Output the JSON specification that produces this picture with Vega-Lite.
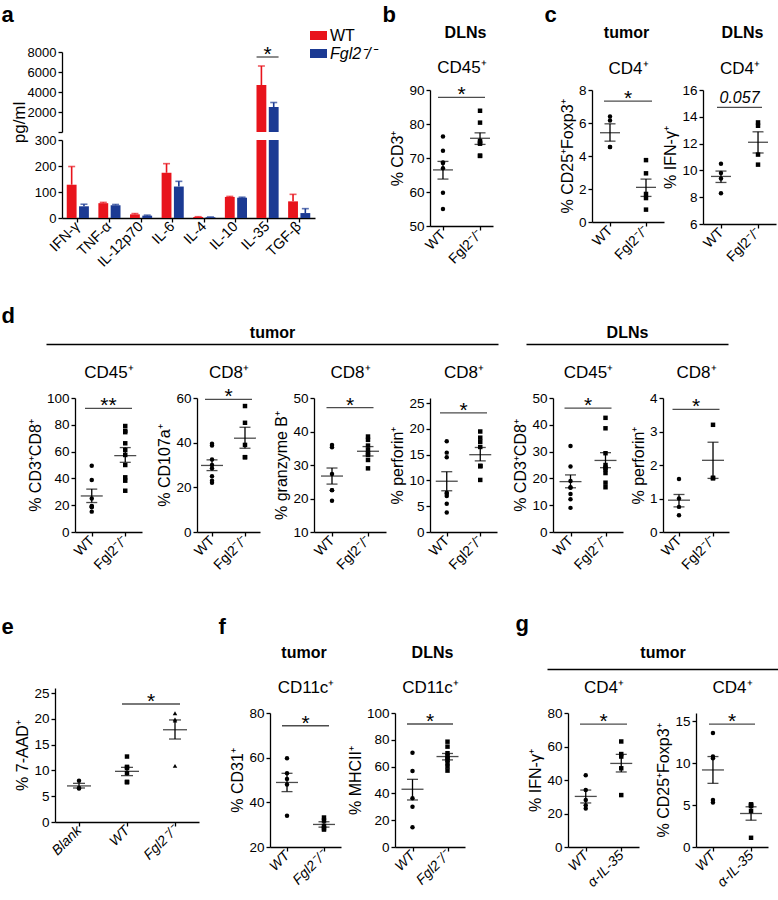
{
"$schema": "https://vega.github.io/schema/vega-lite/v6.json",
"width": 778, "height": 900,
"autosize": {"type": "none"},
"padding": 0,
"background": "white",
"config": {
  "font": "Liberation Sans",
  "numberFormat": "d",
  "view": {"stroke": null},
  "axis": {"grid": false, "domainColor": "#000", "domainWidth": 1.3, "tickColor": "#000", "tickWidth": 1.3, "tickSize": 4, "labelColor": "#000", "labelFontSize": 13.5, "labelFont": "Liberation Sans", "titleFont": "Liberation Sans", "titleFontSize": 16, "titleFontWeight": "normal", "titleColor": "#000", "labelPadding": 2, "titlePadding": 3, "labelFlush": false, "labelOverlap": false},
  "axisX": {"labelFontSize": 14, "titleFontSize": 17},
  "text": {"font": "Liberation Sans", "color": "#000"}
},
"datasets": {
  "a": [
    {"c":"IFN-γ","g":"WT","v":128,"e":198},{"c":"IFN-γ","g":"Fgl2⁻/⁻","v":45,"e":53},
    {"c":"TNF-α","g":"WT","v":57,"e":60},{"c":"TNF-α","g":"Fgl2⁻/⁻","v":49,"e":52},
    {"c":"IL-12p70","g":"WT","v":14,"e":17},{"c":"IL-12p70","g":"Fgl2⁻/⁻","v":9,"e":11},
    {"c":"IL-6","g":"WT","v":174,"e":209},{"c":"IL-6","g":"Fgl2⁻/⁻","v":121,"e":141},
    {"c":"IL-4","g":"WT","v":4,"e":5},{"c":"IL-4","g":"Fgl2⁻/⁻","v":3,"e":4},
    {"c":"IL-10","g":"WT","v":81,"e":83},{"c":"IL-10","g":"Fgl2⁻/⁻","v":78,"e":80},
    {"c":"IL-35","g":"WT","v":4700,"e":6600},{"c":"IL-35","g":"Fgl2⁻/⁻","v":2500,"e":2950},
    {"c":"TGF-β","g":"WT","v":64,"e":91},{"c":"TGF-β","g":"Fgl2⁻/⁻","v":19,"e":36}
  ],
  "b_p": [{"g":"WT","v":76.3},{"g":"WT","v":72.1},{"g":"WT","v":68.7},{"g":"WT","v":68.5},{"g":"WT","v":67},{"g":"WT","v":59.8},{"g":"WT","v":55},
          {"g":"Fgl2⁻/⁻","v":83.9},{"g":"Fgl2⁻/⁻","v":80.4},{"g":"Fgl2⁻/⁻","v":75},{"g":"Fgl2⁻/⁻","v":74.5},{"g":"Fgl2⁻/⁻","v":74.2},{"g":"Fgl2⁻/⁻","v":70.7},{"g":"Fgl2⁻/⁻","v":70.6}],
  "b_s": [{"g":"WT","m":66.5,"lo":63.8,"hi":69.0},{"g":"Fgl2⁻/⁻","m":75.8,"lo":74.0,"hi":77.4}],
  "c1_p": [{"g":"WT","v":6.4},{"g":"WT","v":6.15},{"g":"WT","v":4.55},{"g":"WT","v":4.55},
           {"g":"Fgl2⁻/⁻","v":3.75},{"g":"Fgl2⁻/⁻","v":2.95},{"g":"Fgl2⁻/⁻","v":1.7},{"g":"Fgl2⁻/⁻","v":1.45},{"g":"Fgl2⁻/⁻","v":0.75}],
  "c1_s": [{"g":"WT","m":5.41,"lo":4.9,"hi":5.95},{"g":"Fgl2⁻/⁻","m":2.1,"lo":1.55,"hi":2.6}],
  "c2_p": [{"g":"WT","v":10.5},{"g":"WT","v":9.8},{"g":"WT","v":9.4},{"g":"WT","v":8.3},
           {"g":"Fgl2⁻/⁻","v":13.58},{"g":"Fgl2⁻/⁻","v":13.33},{"g":"Fgl2⁻/⁻","v":11.18},{"g":"Fgl2⁻/⁻","v":10.43}],
  "c2_s": [{"g":"WT","m":9.55,"lo":9.1,"hi":9.95},{"g":"Fgl2⁻/⁻","m":12.1,"lo":11.3,"hi":12.88}],
  "d1_p": [{"g":"WT","v":49.5},{"g":"WT","v":38.8},{"g":"WT","v":25},{"g":"WT","v":19.5},{"g":"WT","v":19},{"g":"WT","v":18.5},{"g":"WT","v":15.2},
           {"g":"Fgl2⁻/⁻","v":79.1},{"g":"Fgl2⁻/⁻","v":75.5},{"g":"Fgl2⁻/⁻","v":74.5},{"g":"Fgl2⁻/⁻","v":66.2},{"g":"Fgl2⁻/⁻","v":61.2},{"g":"Fgl2⁻/⁻","v":57.5},{"g":"Fgl2⁻/⁻","v":50},{"g":"Fgl2⁻/⁻","v":40.8},{"g":"Fgl2⁻/⁻","v":38.3},{"g":"Fgl2⁻/⁻","v":30.8}],
  "d1_s": [{"g":"WT","m":26.9,"lo":22,"hi":32},{"g":"Fgl2⁻/⁻","m":57,"lo":52,"hi":63}],
  "d2_p": [{"g":"WT","v":39.5},{"g":"WT","v":38.7},{"g":"WT","v":32.5},{"g":"WT","v":30},{"g":"WT","v":28.5},{"g":"WT","v":25},{"g":"WT","v":23},{"g":"WT","v":22},
           {"g":"Fgl2⁻/⁻","v":56.4},{"g":"Fgl2⁻/⁻","v":48.9},{"g":"Fgl2⁻/⁻","v":39},{"g":"Fgl2⁻/⁻","v":33.5},{"g":"Fgl2⁻/⁻","v":33.5}],
  "d2_s": [{"g":"WT","m":29.8,"lo":27.5,"hi":32.3},{"g":"Fgl2⁻/⁻","m":42,"lo":37.5,"hi":46.9}],
  "d3_p": [{"g":"WT","v":36},{"g":"WT","v":35.3},{"g":"WT","v":27.3},{"g":"WT","v":22.5},{"g":"WT","v":22.5},{"g":"WT","v":19.3},
           {"g":"Fgl2⁻/⁻","v":38.5},{"g":"Fgl2⁻/⁻","v":37.5},{"g":"Fgl2⁻/⁻","v":35.8},{"g":"Fgl2⁻/⁻","v":34.5},{"g":"Fgl2⁻/⁻","v":33.5},{"g":"Fgl2⁻/⁻","v":33},{"g":"Fgl2⁻/⁻","v":31.5},{"g":"Fgl2⁻/⁻","v":29}],
  "d3_s": [{"g":"WT","m":26.7,"lo":24.3,"hi":29.1},{"g":"Fgl2⁻/⁻","m":34.1,"lo":32.7,"hi":35.5}],
  "d4_p": [{"g":"WT","v":17.6},{"g":"WT","v":15.4},{"g":"WT","v":14.5},{"g":"WT","v":7.6},{"g":"WT","v":7.4},{"g":"WT","v":7},{"g":"WT","v":5.5},{"g":"WT","v":3.8},
           {"g":"Fgl2⁻/⁻","v":19.5},{"g":"Fgl2⁻/⁻","v":18.3},{"g":"Fgl2⁻/⁻","v":17.5},{"g":"Fgl2⁻/⁻","v":16.5},{"g":"Fgl2⁻/⁻","v":12.8},{"g":"Fgl2⁻/⁻","v":12.8},{"g":"Fgl2⁻/⁻","v":12.8},{"g":"Fgl2⁻/⁻","v":10.1}],
  "d4_s": [{"g":"WT","m":9.85,"lo":8.0,"hi":11.7},{"g":"Fgl2⁻/⁻","m":15.0,"lo":13.8,"hi":16.4}],
  "d5_p": [{"g":"WT","v":32.1},{"g":"WT","v":24.4},{"g":"WT","v":19},{"g":"WT","v":16.7},{"g":"WT","v":16.5},{"g":"WT","v":14.2},{"g":"WT","v":12.2},{"g":"WT","v":9},
           {"g":"Fgl2⁻/⁻","v":42.6},{"g":"Fgl2⁻/⁻","v":38.7},{"g":"Fgl2⁻/⁻","v":29.4},{"g":"Fgl2⁻/⁻","v":25},{"g":"Fgl2⁻/⁻","v":24},{"g":"Fgl2⁻/⁻","v":23.4},{"g":"Fgl2⁻/⁻","v":22},{"g":"Fgl2⁻/⁻","v":18.4},{"g":"Fgl2⁻/⁻","v":16.7}],
  "d5_s": [{"g":"WT","m":18.8,"lo":16.5,"hi":21.3},{"g":"Fgl2⁻/⁻","m":26.7,"lo":24,"hi":29.6}],
  "d6_p": [{"g":"WT","v":1.58},{"g":"WT","v":1.0},{"g":"WT","v":0.75},{"g":"WT","v":0.5},
           {"g":"Fgl2⁻/⁻","v":3.2},{"g":"Fgl2⁻/⁻","v":1.62},{"g":"Fgl2⁻/⁻","v":1.6}],
  "d6_s": [{"g":"WT","m":0.95,"lo":0.75,"hi":1.12},{"g":"Fgl2⁻/⁻","m":2.14,"lo":1.6,"hi":2.68}],
  "e_p": [{"g":"Blank","v":8.0},{"g":"Blank","v":6.6},{"g":"Blank","v":6.5},
          {"g":"WT","v":12.7},{"g":"WT","v":10.7},{"g":"WT","v":10.5},{"g":"WT","v":9.5},{"g":"WT","v":7.8},{"g":"WT","v":7.7},
          {"g":"Fgl2⁻/⁻","v":21.1},{"g":"Fgl2⁻/⁻","v":19.9},{"g":"Fgl2⁻/⁻","v":19.7},{"g":"Fgl2⁻/⁻","v":10.9}],
  "e_s": [{"g":"Blank","m":7.0,"lo":6.6,"hi":7.5},{"g":"WT","m":9.83,"lo":9.0,"hi":10.6},{"g":"Fgl2⁻/⁻","m":17.9,"lo":16.1,"hi":19.8}],
  "f1_p": [{"g":"WT","v":59.7},{"g":"WT","v":53},{"g":"WT","v":50.5},{"g":"WT","v":48},{"g":"WT","v":34},
           {"g":"Fgl2⁻/⁻","v":33.2},{"g":"Fgl2⁻/⁻","v":31.8},{"g":"Fgl2⁻/⁻","v":29.5},{"g":"Fgl2⁻/⁻","v":28.4},{"g":"Fgl2⁻/⁻","v":27.8}],
  "f1_s": [{"g":"WT","m":48.9,"lo":44.8,"hi":53.0},{"g":"Fgl2⁻/⁻","m":30.1,"lo":28.9,"hi":31.3}],
  "f2_p": [{"g":"WT","v":70.4},{"g":"WT","v":56.7},{"g":"WT","v":36.3},{"g":"WT","v":30},{"g":"WT","v":14.7},
           {"g":"Fgl2⁻/⁻","v":78.6},{"g":"Fgl2⁻/⁻","v":74.9},{"g":"Fgl2⁻/⁻","v":70},{"g":"Fgl2⁻/⁻","v":68},{"g":"Fgl2⁻/⁻","v":66.2},{"g":"Fgl2⁻/⁻","v":65},{"g":"Fgl2⁻/⁻","v":62.5},{"g":"Fgl2⁻/⁻","v":60},{"g":"Fgl2⁻/⁻","v":57}],
  "f2_s": [{"g":"WT","m":43.1,"lo":35.1,"hi":50.5},{"g":"Fgl2⁻/⁻","m":67.5,"lo":65,"hi":69.8}],
  "g1_p": [{"g":"WT","v":42.8},{"g":"WT","v":34},{"g":"WT","v":28},{"g":"WT","v":25},{"g":"WT","v":23},
           {"g":"α-IL-35","v":63},{"g":"α-IL-35","v":55.5},{"g":"α-IL-35","v":54},{"g":"α-IL-35","v":47},{"g":"α-IL-35","v":31}],
  "g1_s": [{"g":"WT","m":30.2,"lo":26.3,"hi":34},{"g":"α-IL-35","m":49.9,"lo":44.8,"hi":55.3}],
  "g2_p": [{"g":"WT","v":13.6},{"g":"WT","v":10.8},{"g":"WT","v":10.6},{"g":"WT","v":5.6},{"g":"WT","v":5.3},
           {"g":"α-IL-35","v":5.1},{"g":"α-IL-35","v":5.0},{"g":"α-IL-35","v":4.9},{"g":"α-IL-35","v":4.3},{"g":"α-IL-35","v":1.1}],
  "g2_s": [{"g":"WT","m":9.2,"lo":7.6,"hi":10.8},{"g":"α-IL-35","m":4.0,"lo":3.2,"hi":4.8}]
},
"layer": [
  {
    "data": {"name": "a"},
    "layer": [
      {"layer": [
        {"mark": {"type": "bar"},
         "encoding": {
           "x": {"field": "c", "type": "nominal", "scale": {"domain": ["IFN-γ","TNF-α","IL-12p70","IL-6","IL-4","IL-10","IL-35","TGF-β"], "range": [62, 315], "paddingInner": 0.3, "paddingOuter": 0.15},
                 "axis": {"orient": "bottom", "offset": -682, "labelAngle": -45, "labelAlign": "right", "labelBaseline": "middle", "labelFontSize": 14.5, "title": null}},
           "xOffset": {"field": "g", "type": "nominal", "scale": {"domain": ["WT","Fgl2⁻/⁻"], "paddingInner": 0.2}},
           "y": {"field": "v", "type": "quantitative", "scale": {"domain": [0, 300], "range": [218, 140], "clamp": true},
                 "axis": {"orient": "left", "offset": -62, "values": [0,100,200,300], "title": null, "labelFontSize": 13}},
           "color": {"field": "g", "type": "nominal", "scale": {"domain": ["WT","Fgl2⁻/⁻"], "range": ["#E8141C","#1B3A93"]},
                     "legend": {"orient": "none", "legendX": 310, "legendY": 27, "title": null, "symbolType": "M-1,-0.53H1V0.53H-1Z", "symbolSize": 289, "symbolStrokeWidth": 0, "labelFontSize": 16, "labelFont": "Liberation Sans", "labelColor": "#000", "rowPadding": 1, "labelOffset": 3, "padding": 0,
                                "encode": {"labels": {"update": {"fontStyle": {"signal": "datum.label == 'WT' ? 'normal' : 'italic'"}}}}}}
         }},
        {"transform": [{"filter": "datum.c != 'IL-35'"}],
         "mark": {"type": "rule", "strokeWidth": 1.6},
         "encoding": {"x": {"field": "c", "type": "nominal"}, "xOffset": {"field": "g", "type": "nominal"}, "y": {"field": "v", "type": "quantitative"}, "y2": {"field": "e"}, "color": {"field": "g", "type": "nominal"}}},
        {"transform": [{"filter": "datum.c != 'IL-35'"}],
         "mark": {"type": "tick", "orient": "horizontal", "size": 7, "thickness": 1.6},
         "encoding": {"x": {"field": "c", "type": "nominal"}, "xOffset": {"field": "g", "type": "nominal"}, "y": {"field": "e", "type": "quantitative"}, "color": {"field": "g", "type": "nominal"}}}
      ]},
      {"layer": [
        {"transform": [{"filter": "datum.c == 'IL-35'"}],
         "mark": {"type": "bar"},
         "encoding": {
           "x": {"field": "c", "type": "nominal"},
           "xOffset": {"field": "g", "type": "nominal"},
           "y": {"field": "v", "type": "quantitative", "scale": {"domain": [0, 8000], "range": [132, 52]},
                 "axis": {"orient": "left", "offset": -62, "values": [0,2000,4000,6000,8000], "labelExpr": "datum.value == 0 ? '' : datum.label", "title": "pg/ml", "titleX": -43, "titleY": 122, "titleAlign": "center", "titleBaseline": "middle", "titleFontSize": 17, "labelFontSize": 13}},
           "color": {"field": "g", "type": "nominal"}
         }},
        {"transform": [{"filter": "datum.c == 'IL-35'"}],
         "mark": {"type": "rule", "strokeWidth": 1.6},
         "encoding": {"x": {"field": "c", "type": "nominal"}, "xOffset": {"field": "g", "type": "nominal"}, "y": {"field": "v", "type": "quantitative"}, "y2": {"field": "e"}, "color": {"field": "g", "type": "nominal"}}},
        {"transform": [{"filter": "datum.c == 'IL-35'"}],
         "mark": {"type": "tick", "orient": "horizontal", "size": 7, "thickness": 1.6},
         "encoding": {"x": {"field": "c", "type": "nominal"}, "xOffset": {"field": "g", "type": "nominal"}, "y": {"field": "e", "type": "quantitative"}, "color": {"field": "g", "type": "nominal"}}},
        {"data": {"values": [{}]}, "mark": {"type": "tick", "orient": "horizontal", "size": 22, "thickness": 1.3, "color": "#000"},
         "encoding": {"x": {"datum": "IL-35", "type": "nominal"}, "y": {"datum": 7500, "type": "quantitative"}}},
        {"data": {"values": [{}]}, "mark": {"type": "text", "text": "*", "fontSize": 21, "dy": 4, "baseline": "alphabetic", "align": "center"},
         "encoding": {"x": {"datum": "IL-35", "type": "nominal"}, "y": {"datum": 7500, "type": "quantitative"}}}
      ]}
    ],
    "resolve": {"scale": {"y": "independent"}}
  },

  {"layer": [
    {"data": {"name": "b_p"}, "mark": {"type": "point", "filled": true, "size": 20, "opacity": 1, "color": "#000"},
     "encoding": {
       "x": {"field": "g", "type": "nominal", "scale": {"type": "point", "domain": ["WT","mid","Fgl2⁻/⁻"], "range": [430, 493], "padding": 0.7},
             "axis": {"orient": "bottom", "offset": -674, "values": ["WT","Fgl2⁻/⁻"], "labelAngle": -45, "labelAlign": "right", "labelBaseline": "middle", "title": "CD45⁺", "titleY": -154, "titleBaseline": "alphabetic"}},
       "y": {"field": "v", "type": "quantitative", "scale": {"domain": [50, 90], "range": [226, 90]}, "axis": {"orient": "left", "offset": -430, "values": [50,60,70,80,90], "title": "% CD3⁺"}},
       "shape": {"field": "g", "type": "nominal", "scale": {"domain": ["WT","Fgl2⁻/⁻"], "range": ["circle","square"]}, "legend": null}}},
    {"data": {"name": "b_s"}, "mark": {"type": "tick", "orient": "horizontal", "size": 20, "thickness": 1.3, "color": "#000"}, "encoding": {"x": {"field": "g", "type": "nominal"}, "y": {"field": "m", "type": "quantitative"}}},
    {"data": {"name": "b_s"}, "mark": {"type": "rule", "strokeWidth": 1.3, "color": "#000"}, "encoding": {"x": {"field": "g", "type": "nominal"}, "y": {"field": "lo", "type": "quantitative"}, "y2": {"field": "hi"}}},
    {"data": {"name": "b_s"}, "transform": [{"fold": ["lo","hi"]}], "mark": {"type": "tick", "orient": "horizontal", "size": 11, "thickness": 1.3, "color": "#000"}, "encoding": {"x": {"field": "g", "type": "nominal"}, "y": {"field": "value", "type": "quantitative"}}},
    {"data": {"values": [{}]}, "mark": {"type": "tick", "orient": "horizontal", "size": 47, "thickness": 1.3, "color": "#000"}, "encoding": {"x": {"datum": "mid", "type": "nominal"}, "y": {"datum": 87.85, "type": "quantitative"}}},
    {"data": {"values": [{}]}, "mark": {"type": "text", "text": "*", "fontSize": 21, "dy": 4, "baseline": "alphabetic"}, "encoding": {"x": {"datum": "mid", "type": "nominal"}, "y": {"datum": 87.85, "type": "quantitative"}}}
  ]},

  {"layer": [
    {"data": {"name": "c1_p"}, "mark": {"type": "point", "filled": true, "size": 20, "opacity": 1, "color": "#000"},
     "encoding": {
       "x": {"field": "g", "type": "nominal", "scale": {"type": "point", "domain": ["WT","mid","Fgl2⁻/⁻"], "range": [592, 664], "padding": 1.4},
             "axis": {"orient": "bottom", "offset": -678, "values": ["WT","Fgl2⁻/⁻"], "labelAngle": -45, "labelAlign": "right", "labelBaseline": "middle", "title": "CD4⁺", "titleY": -149, "titleBaseline": "alphabetic"}},
       "y": {"field": "v", "type": "quantitative", "scale": {"domain": [0, 8], "range": [222, 90]}, "axis": {"orient": "left", "offset": -592, "values": [0,2,4,6,8], "title": "% CD25⁺Foxp3⁺"}},
       "shape": {"field": "g", "type": "nominal", "scale": {"domain": ["WT","Fgl2⁻/⁻"], "range": ["circle","square"]}, "legend": null}}},
    {"data": {"name": "c1_s"}, "mark": {"type": "tick", "orient": "horizontal", "size": 20, "thickness": 1.3, "color": "#000"}, "encoding": {"x": {"field": "g", "type": "nominal"}, "y": {"field": "m", "type": "quantitative"}}},
    {"data": {"name": "c1_s"}, "mark": {"type": "rule", "strokeWidth": 1.3, "color": "#000"}, "encoding": {"x": {"field": "g", "type": "nominal"}, "y": {"field": "lo", "type": "quantitative"}, "y2": {"field": "hi"}}},
    {"data": {"name": "c1_s"}, "transform": [{"fold": ["lo","hi"]}], "mark": {"type": "tick", "orient": "horizontal", "size": 11, "thickness": 1.3, "color": "#000"}, "encoding": {"x": {"field": "g", "type": "nominal"}, "y": {"field": "value", "type": "quantitative"}}},
    {"data": {"values": [{}]}, "mark": {"type": "tick", "orient": "horizontal", "size": 48, "thickness": 1.3, "color": "#000"}, "encoding": {"x": {"datum": "mid", "type": "nominal"}, "y": {"datum": 7.33, "type": "quantitative"}}},
    {"data": {"values": [{}]}, "mark": {"type": "text", "text": "*", "fontSize": 21, "dy": 4, "baseline": "alphabetic"}, "encoding": {"x": {"datum": "mid", "type": "nominal"}, "y": {"datum": 7.33, "type": "quantitative"}}}
  ]},

  {"layer": [
    {"data": {"name": "c2_p"}, "mark": {"type": "point", "filled": true, "size": 20, "opacity": 1, "color": "#000"},
     "encoding": {
       "x": {"field": "g", "type": "nominal", "scale": {"type": "point", "domain": ["WT","mid","Fgl2⁻/⁻"], "range": [703, 776], "padding": 0.97},
             "axis": {"orient": "bottom", "offset": -676, "values": ["WT","Fgl2⁻/⁻"], "labelAngle": -45, "labelAlign": "right", "labelBaseline": "middle", "title": "CD4⁺", "titleY": -151, "titleBaseline": "alphabetic"}},
       "y": {"field": "v", "type": "quantitative", "scale": {"domain": [6, 16], "range": [224, 90]}, "axis": {"orient": "left", "offset": -703, "values": [6,8,10,12,14,16], "title": "% IFN-γ⁺"}},
       "shape": {"field": "g", "type": "nominal", "scale": {"domain": ["WT","Fgl2⁻/⁻"], "range": ["circle","square"]}, "legend": null}}},
    {"data": {"name": "c2_s"}, "mark": {"type": "tick", "orient": "horizontal", "size": 20, "thickness": 1.3, "color": "#000"}, "encoding": {"x": {"field": "g", "type": "nominal"}, "y": {"field": "m", "type": "quantitative"}}},
    {"data": {"name": "c2_s"}, "mark": {"type": "rule", "strokeWidth": 1.3, "color": "#000"}, "encoding": {"x": {"field": "g", "type": "nominal"}, "y": {"field": "lo", "type": "quantitative"}, "y2": {"field": "hi"}}},
    {"data": {"name": "c2_s"}, "transform": [{"fold": ["lo","hi"]}], "mark": {"type": "tick", "orient": "horizontal", "size": 11, "thickness": 1.3, "color": "#000"}, "encoding": {"x": {"field": "g", "type": "nominal"}, "y": {"field": "value", "type": "quantitative"}}},
    {"data": {"values": [{}]}, "mark": {"type": "tick", "orient": "horizontal", "size": 45, "thickness": 1.3, "color": "#000"}, "encoding": {"x": {"datum": "mid", "type": "nominal"}, "y": {"datum": 14.71, "type": "quantitative"}}},
    {"data": {"values": [{}]}, "mark": {"type": "text", "text": "0.057", "fontSize": 16, "fontStyle": "italic", "dy": -4, "baseline": "alphabetic"}, "encoding": {"x": {"datum": "mid", "type": "nominal"}, "y": {"datum": 14.71, "type": "quantitative"}}}
  ]},

  {"layer": [
    {"data": {"name": "d1_p"}, "mark": {"type": "point", "filled": true, "size": 20, "opacity": 1, "color": "#000"},
     "encoding": {
       "x": {"field": "g", "type": "nominal", "scale": {"type": "point", "domain": ["WT","mid","Fgl2⁻/⁻"], "range": [75, 142], "padding": 1.03},
             "axis": {"orient": "bottom", "offset": -368, "values": ["WT","Fgl2⁻/⁻"], "labelAngle": -45, "labelAlign": "right", "labelBaseline": "middle", "title": "CD45⁺", "titleY": -155, "titleBaseline": "alphabetic"}},
       "y": {"field": "v", "type": "quantitative", "scale": {"domain": [0, 100], "range": [532, 398]}, "axis": {"orient": "left", "offset": -75, "values": [0,20,40,60,80,100], "title": "% CD3⁺CD8⁺"}},
       "shape": {"field": "g", "type": "nominal", "scale": {"domain": ["WT","Fgl2⁻/⁻"], "range": ["circle","square"]}, "legend": null}}},
    {"data": {"name": "d1_s"}, "mark": {"type": "tick", "orient": "horizontal", "size": 22, "thickness": 1.3, "color": "#000"}, "encoding": {"x": {"field": "g", "type": "nominal"}, "y": {"field": "m", "type": "quantitative"}}},
    {"data": {"name": "d1_s"}, "mark": {"type": "rule", "strokeWidth": 1.3, "color": "#000"}, "encoding": {"x": {"field": "g", "type": "nominal"}, "y": {"field": "lo", "type": "quantitative"}, "y2": {"field": "hi"}}},
    {"data": {"name": "d1_s"}, "transform": [{"fold": ["lo","hi"]}], "mark": {"type": "tick", "orient": "horizontal", "size": 11, "thickness": 1.3, "color": "#000"}, "encoding": {"x": {"field": "g", "type": "nominal"}, "y": {"field": "value", "type": "quantitative"}}},
    {"data": {"values": [{}]}, "mark": {"type": "tick", "orient": "horizontal", "size": 47, "thickness": 1.3, "color": "#000"}, "encoding": {"x": {"datum": "mid", "type": "nominal"}, "y": {"datum": 92.3, "type": "quantitative"}}},
    {"data": {"values": [{}]}, "mark": {"type": "text", "text": "**", "fontSize": 21, "dy": 4, "baseline": "alphabetic"}, "encoding": {"x": {"datum": "mid", "type": "nominal"}, "y": {"datum": 92.3, "type": "quantitative"}}}
  ]},

  {"layer": [
    {"data": {"name": "d2_p"}, "mark": {"type": "point", "filled": true, "size": 20, "opacity": 1, "color": "#000"},
     "encoding": {
       "x": {"field": "g", "type": "nominal", "scale": {"type": "point", "domain": ["WT","mid","Fgl2⁻/⁻"], "range": [197, 260], "padding": 0.91},
             "axis": {"orient": "bottom", "offset": -368, "values": ["WT","Fgl2⁻/⁻"], "labelAngle": -45, "labelAlign": "right", "labelBaseline": "middle", "title": "CD8⁺", "titleY": -155, "titleBaseline": "alphabetic"}},
       "y": {"field": "v", "type": "quantitative", "scale": {"domain": [0, 60], "range": [532, 398]}, "axis": {"orient": "left", "offset": -197, "values": [0,20,40,60], "title": "% CD107a⁺"}},
       "shape": {"field": "g", "type": "nominal", "scale": {"domain": ["WT","Fgl2⁻/⁻"], "range": ["circle","square"]}, "legend": null}}},
    {"data": {"name": "d2_s"}, "mark": {"type": "tick", "orient": "horizontal", "size": 22, "thickness": 1.3, "color": "#000"}, "encoding": {"x": {"field": "g", "type": "nominal"}, "y": {"field": "m", "type": "quantitative"}}},
    {"data": {"name": "d2_s"}, "mark": {"type": "rule", "strokeWidth": 1.3, "color": "#000"}, "encoding": {"x": {"field": "g", "type": "nominal"}, "y": {"field": "lo", "type": "quantitative"}, "y2": {"field": "hi"}}},
    {"data": {"name": "d2_s"}, "transform": [{"fold": ["lo","hi"]}], "mark": {"type": "tick", "orient": "horizontal", "size": 11, "thickness": 1.3, "color": "#000"}, "encoding": {"x": {"field": "g", "type": "nominal"}, "y": {"field": "value", "type": "quantitative"}}},
    {"data": {"values": [{}]}, "mark": {"type": "tick", "orient": "horizontal", "size": 47, "thickness": 1.3, "color": "#000"}, "encoding": {"x": {"datum": "mid", "type": "nominal"}, "y": {"datum": 59.4, "type": "quantitative"}}},
    {"data": {"values": [{}]}, "mark": {"type": "text", "text": "*", "fontSize": 21, "dy": 4, "baseline": "alphabetic"}, "encoding": {"x": {"datum": "mid", "type": "nominal"}, "y": {"datum": 59.4, "type": "quantitative"}}}
  ]},

  {"layer": [
    {"data": {"name": "d3_p"}, "mark": {"type": "point", "filled": true, "size": 20, "opacity": 1, "color": "#000"},
     "encoding": {
       "x": {"field": "g", "type": "nominal", "scale": {"type": "point", "domain": ["WT","mid","Fgl2⁻/⁻"], "range": [314, 386], "padding": 1.12},
             "axis": {"orient": "bottom", "offset": -368, "values": ["WT","Fgl2⁻/⁻"], "labelAngle": -45, "labelAlign": "right", "labelBaseline": "middle", "title": "CD8⁺", "titleY": -155, "titleBaseline": "alphabetic"}},
       "y": {"field": "v", "type": "quantitative", "scale": {"domain": [10, 50], "range": [532, 398]}, "axis": {"orient": "left", "offset": -314, "values": [10,20,30,40,50], "title": "% granzyme B⁺"}},
       "shape": {"field": "g", "type": "nominal", "scale": {"domain": ["WT","Fgl2⁻/⁻"], "range": ["circle","square"]}, "legend": null}}},
    {"data": {"name": "d3_s"}, "mark": {"type": "tick", "orient": "horizontal", "size": 22, "thickness": 1.3, "color": "#000"}, "encoding": {"x": {"field": "g", "type": "nominal"}, "y": {"field": "m", "type": "quantitative"}}},
    {"data": {"name": "d3_s"}, "mark": {"type": "rule", "strokeWidth": 1.3, "color": "#000"}, "encoding": {"x": {"field": "g", "type": "nominal"}, "y": {"field": "lo", "type": "quantitative"}, "y2": {"field": "hi"}}},
    {"data": {"name": "d3_s"}, "transform": [{"fold": ["lo","hi"]}], "mark": {"type": "tick", "orient": "horizontal", "size": 11, "thickness": 1.3, "color": "#000"}, "encoding": {"x": {"field": "g", "type": "nominal"}, "y": {"field": "value", "type": "quantitative"}}},
    {"data": {"values": [{}]}, "mark": {"type": "tick", "orient": "horizontal", "size": 47, "thickness": 1.3, "color": "#000"}, "encoding": {"x": {"datum": "mid", "type": "nominal"}, "y": {"datum": 47.1, "type": "quantitative"}}},
    {"data": {"values": [{}]}, "mark": {"type": "text", "text": "*", "fontSize": 21, "dy": 4, "baseline": "alphabetic"}, "encoding": {"x": {"datum": "mid", "type": "nominal"}, "y": {"datum": 47.1, "type": "quantitative"}}}
  ]},

  {"layer": [
    {"data": {"name": "d4_p"}, "mark": {"type": "point", "filled": true, "size": 20, "opacity": 1, "color": "#000"},
     "encoding": {
       "x": {"field": "g", "type": "nominal", "scale": {"type": "point", "domain": ["WT","mid","Fgl2⁻/⁻"], "range": [430, 497], "padding": 1.16},
             "axis": {"orient": "bottom", "offset": -368, "values": ["WT","Fgl2⁻/⁻"], "labelAngle": -45, "labelAlign": "right", "labelBaseline": "middle", "title": "CD8⁺", "titleY": -155, "titleBaseline": "alphabetic"}},
       "y": {"field": "v", "type": "quantitative", "scale": {"domain": [0, 25], "range": [532, 398]}, "axis": {"orient": "left", "offset": -430, "values": [0,5,10,15,20,25], "title": "% perforin⁺"}},
       "shape": {"field": "g", "type": "nominal", "scale": {"domain": ["WT","Fgl2⁻/⁻"], "range": ["circle","square"]}, "legend": null}}},
    {"data": {"name": "d4_s"}, "mark": {"type": "tick", "orient": "horizontal", "size": 22, "thickness": 1.3, "color": "#000"}, "encoding": {"x": {"field": "g", "type": "nominal"}, "y": {"field": "m", "type": "quantitative"}}},
    {"data": {"name": "d4_s"}, "mark": {"type": "rule", "strokeWidth": 1.3, "color": "#000"}, "encoding": {"x": {"field": "g", "type": "nominal"}, "y": {"field": "lo", "type": "quantitative"}, "y2": {"field": "hi"}}},
    {"data": {"name": "d4_s"}, "transform": [{"fold": ["lo","hi"]}], "mark": {"type": "tick", "orient": "horizontal", "size": 11, "thickness": 1.3, "color": "#000"}, "encoding": {"x": {"field": "g", "type": "nominal"}, "y": {"field": "value", "type": "quantitative"}}},
    {"data": {"values": [{}]}, "mark": {"type": "tick", "orient": "horizontal", "size": 47, "thickness": 1.3, "color": "#000"}, "encoding": {"x": {"datum": "mid", "type": "nominal"}, "y": {"datum": 23.1, "type": "quantitative"}}},
    {"data": {"values": [{}]}, "mark": {"type": "text", "text": "*", "fontSize": 21, "dy": 4, "baseline": "alphabetic"}, "encoding": {"x": {"datum": "mid", "type": "nominal"}, "y": {"datum": 23.1, "type": "quantitative"}}}
  ]},

  {"layer": [
    {"data": {"name": "d5_p"}, "mark": {"type": "point", "filled": true, "size": 20, "opacity": 1, "color": "#000"},
     "encoding": {
       "x": {"field": "g", "type": "nominal", "scale": {"type": "point", "domain": ["WT","mid","Fgl2⁻/⁻"], "range": [553, 623], "padding": 1.07},
             "axis": {"orient": "bottom", "offset": -368, "values": ["WT","Fgl2⁻/⁻"], "labelAngle": -45, "labelAlign": "right", "labelBaseline": "middle", "title": "CD45⁺", "titleY": -155, "titleBaseline": "alphabetic"}},
       "y": {"field": "v", "type": "quantitative", "scale": {"domain": [0, 50], "range": [532, 398]}, "axis": {"orient": "left", "offset": -553, "values": [0,10,20,30,40,50], "title": "% CD3⁺CD8⁺"}},
       "shape": {"field": "g", "type": "nominal", "scale": {"domain": ["WT","Fgl2⁻/⁻"], "range": ["circle","square"]}, "legend": null}}},
    {"data": {"name": "d5_s"}, "mark": {"type": "tick", "orient": "horizontal", "size": 22, "thickness": 1.3, "color": "#000"}, "encoding": {"x": {"field": "g", "type": "nominal"}, "y": {"field": "m", "type": "quantitative"}}},
    {"data": {"name": "d5_s"}, "mark": {"type": "rule", "strokeWidth": 1.3, "color": "#000"}, "encoding": {"x": {"field": "g", "type": "nominal"}, "y": {"field": "lo", "type": "quantitative"}, "y2": {"field": "hi"}}},
    {"data": {"name": "d5_s"}, "transform": [{"fold": ["lo","hi"]}], "mark": {"type": "tick", "orient": "horizontal", "size": 11, "thickness": 1.3, "color": "#000"}, "encoding": {"x": {"field": "g", "type": "nominal"}, "y": {"field": "value", "type": "quantitative"}}},
    {"data": {"values": [{}]}, "mark": {"type": "tick", "orient": "horizontal", "size": 47, "thickness": 1.3, "color": "#000"}, "encoding": {"x": {"datum": "mid", "type": "nominal"}, "y": {"datum": 46.2, "type": "quantitative"}}},
    {"data": {"values": [{}]}, "mark": {"type": "text", "text": "*", "fontSize": 21, "dy": 4, "baseline": "alphabetic"}, "encoding": {"x": {"datum": "mid", "type": "nominal"}, "y": {"datum": 46.2, "type": "quantitative"}}}
  ]},

  {"layer": [
    {"data": {"name": "d6_p"}, "mark": {"type": "point", "filled": true, "size": 20, "opacity": 1, "color": "#000"},
     "encoding": {
       "x": {"field": "g", "type": "nominal", "scale": {"type": "point", "domain": ["WT","mid","Fgl2⁻/⁻"], "range": [663, 729], "padding": 0.94},
             "axis": {"orient": "bottom", "offset": -368, "values": ["WT","Fgl2⁻/⁻"], "labelAngle": -45, "labelAlign": "right", "labelBaseline": "middle", "title": "CD8⁺", "titleY": -155, "titleBaseline": "alphabetic"}},
       "y": {"field": "v", "type": "quantitative", "scale": {"domain": [0, 4], "range": [532, 398]}, "axis": {"orient": "left", "offset": -663, "values": [0,1,2,3,4], "title": "% perforin⁺"}},
       "shape": {"field": "g", "type": "nominal", "scale": {"domain": ["WT","Fgl2⁻/⁻"], "range": ["circle","square"]}, "legend": null}}},
    {"data": {"name": "d6_s"}, "mark": {"type": "tick", "orient": "horizontal", "size": 22, "thickness": 1.3, "color": "#000"}, "encoding": {"x": {"field": "g", "type": "nominal"}, "y": {"field": "m", "type": "quantitative"}}},
    {"data": {"name": "d6_s"}, "mark": {"type": "rule", "strokeWidth": 1.3, "color": "#000"}, "encoding": {"x": {"field": "g", "type": "nominal"}, "y": {"field": "lo", "type": "quantitative"}, "y2": {"field": "hi"}}},
    {"data": {"name": "d6_s"}, "transform": [{"fold": ["lo","hi"]}], "mark": {"type": "tick", "orient": "horizontal", "size": 11, "thickness": 1.3, "color": "#000"}, "encoding": {"x": {"field": "g", "type": "nominal"}, "y": {"field": "value", "type": "quantitative"}}},
    {"data": {"values": [{}]}, "mark": {"type": "tick", "orient": "horizontal", "size": 47, "thickness": 1.3, "color": "#000"}, "encoding": {"x": {"datum": "mid", "type": "nominal"}, "y": {"datum": 3.66, "type": "quantitative"}}},
    {"data": {"values": [{}]}, "mark": {"type": "text", "text": "*", "fontSize": 21, "dy": 4, "baseline": "alphabetic"}, "encoding": {"x": {"datum": "mid", "type": "nominal"}, "y": {"datum": 3.66, "type": "quantitative"}}}
  ]},

  {"layer": [
    {"data": {"name": "e_p"}, "mark": {"type": "point", "filled": true, "size": 20, "opacity": 1, "color": "#000"},
     "encoding": {
       "x": {"field": "g", "type": "nominal", "scale": {"type": "point", "domain": ["Blank","b2","WT","mid","Fgl2⁻/⁻"], "range": [55, 199], "padding": 1.2},
             "axis": {"orient": "bottom", "offset": -78, "values": ["Blank","WT","Fgl2⁻/⁻"], "labelAngle": -45, "labelAlign": "right", "labelBaseline": "middle", "labelFontStyle": "italic", "title": null}},
       "y": {"field": "v", "type": "quantitative", "scale": {"domain": [0, 25], "range": [822, 688]}, "axis": {"orient": "left", "offset": -55, "values": [0,5,10,15,20,25], "title": "% 7-AAD⁺"}},
       "shape": {"field": "g", "type": "nominal", "scale": {"domain": ["Blank","WT","Fgl2⁻/⁻"], "range": ["circle","square","triangle-up"]}, "legend": null}}},
    {"data": {"name": "e_s"}, "mark": {"type": "tick", "orient": "horizontal", "size": 24, "thickness": 1.3, "color": "#000"}, "encoding": {"x": {"field": "g", "type": "nominal"}, "y": {"field": "m", "type": "quantitative"}}},
    {"data": {"name": "e_s"}, "mark": {"type": "rule", "strokeWidth": 1.3, "color": "#000"}, "encoding": {"x": {"field": "g", "type": "nominal"}, "y": {"field": "lo", "type": "quantitative"}, "y2": {"field": "hi"}}},
    {"data": {"name": "e_s"}, "transform": [{"fold": ["lo","hi"]}], "mark": {"type": "tick", "orient": "horizontal", "size": 12, "thickness": 1.3, "color": "#000"}, "encoding": {"x": {"field": "g", "type": "nominal"}, "y": {"field": "value", "type": "quantitative"}}},
    {"data": {"values": [{}]}, "mark": {"type": "tick", "orient": "horizontal", "size": 58, "thickness": 1.3, "color": "#000"}, "encoding": {"x": {"datum": "mid", "type": "nominal"}, "y": {"datum": 22.9, "type": "quantitative"}}},
    {"data": {"values": [{}]}, "mark": {"type": "text", "text": "*", "fontSize": 21, "dy": 4, "baseline": "alphabetic"}, "encoding": {"x": {"datum": "mid", "type": "nominal"}, "y": {"datum": 22.9, "type": "quantitative"}}}
  ]},

  {"layer": [
    {"data": {"name": "f1_p"}, "mark": {"type": "point", "filled": true, "size": 20, "opacity": 1, "color": "#000"},
     "encoding": {
       "x": {"field": "g", "type": "nominal", "scale": {"type": "point", "domain": ["WT","mid","Fgl2⁻/⁻"], "range": [270, 341], "padding": 0.92},
             "axis": {"orient": "bottom", "offset": -53, "values": ["WT","Fgl2⁻/⁻"], "labelAngle": -45, "labelAlign": "right", "labelBaseline": "middle", "labelFontStyle": "italic", "title": "CD11c⁺", "titleY": -155, "titleBaseline": "alphabetic"}},
       "y": {"field": "v", "type": "quantitative", "scale": {"domain": [20, 80], "range": [847, 713]}, "axis": {"orient": "left", "offset": -270, "values": [20,40,60,80], "title": "% CD31⁺"}},
       "shape": {"field": "g", "type": "nominal", "scale": {"domain": ["WT","Fgl2⁻/⁻"], "range": ["circle","square"]}, "legend": null}}},
    {"data": {"name": "f1_s"}, "mark": {"type": "tick", "orient": "horizontal", "size": 22, "thickness": 1.3, "color": "#000"}, "encoding": {"x": {"field": "g", "type": "nominal"}, "y": {"field": "m", "type": "quantitative"}}},
    {"data": {"name": "f1_s"}, "mark": {"type": "rule", "strokeWidth": 1.3, "color": "#000"}, "encoding": {"x": {"field": "g", "type": "nominal"}, "y": {"field": "lo", "type": "quantitative"}, "y2": {"field": "hi"}}},
    {"data": {"name": "f1_s"}, "transform": [{"fold": ["lo","hi"]}], "mark": {"type": "tick", "orient": "horizontal", "size": 11, "thickness": 1.3, "color": "#000"}, "encoding": {"x": {"field": "g", "type": "nominal"}, "y": {"field": "value", "type": "quantitative"}}},
    {"data": {"values": [{}]}, "mark": {"type": "tick", "orient": "horizontal", "size": 47, "thickness": 1.3, "color": "#000"}, "encoding": {"x": {"datum": "mid", "type": "nominal"}, "y": {"datum": 74.3, "type": "quantitative"}}},
    {"data": {"values": [{}]}, "mark": {"type": "text", "text": "*", "fontSize": 21, "dy": 4, "baseline": "alphabetic"}, "encoding": {"x": {"datum": "mid", "type": "nominal"}, "y": {"datum": 74.3, "type": "quantitative"}}}
  ]},

  {"layer": [
    {"data": {"name": "f2_p"}, "mark": {"type": "point", "filled": true, "size": 20, "opacity": 1, "color": "#000"},
     "encoding": {
       "x": {"field": "g", "type": "nominal", "scale": {"type": "point", "domain": ["WT","mid","Fgl2⁻/⁻"], "range": [395, 465], "padding": 1.06},
             "axis": {"orient": "bottom", "offset": -53, "values": ["WT","Fgl2⁻/⁻"], "labelAngle": -45, "labelAlign": "right", "labelBaseline": "middle", "labelFontStyle": "italic", "title": "CD11c⁺", "titleY": -155, "titleBaseline": "alphabetic"}},
       "y": {"field": "v", "type": "quantitative", "scale": {"domain": [0, 100], "range": [847, 713]}, "axis": {"orient": "left", "offset": -395, "values": [0,20,40,60,80,100], "title": "% MHCII⁺"}},
       "shape": {"field": "g", "type": "nominal", "scale": {"domain": ["WT","Fgl2⁻/⁻"], "range": ["circle","square"]}, "legend": null}}},
    {"data": {"name": "f2_s"}, "mark": {"type": "tick", "orient": "horizontal", "size": 22, "thickness": 1.3, "color": "#000"}, "encoding": {"x": {"field": "g", "type": "nominal"}, "y": {"field": "m", "type": "quantitative"}}},
    {"data": {"name": "f2_s"}, "mark": {"type": "rule", "strokeWidth": 1.3, "color": "#000"}, "encoding": {"x": {"field": "g", "type": "nominal"}, "y": {"field": "lo", "type": "quantitative"}, "y2": {"field": "hi"}}},
    {"data": {"name": "f2_s"}, "transform": [{"fold": ["lo","hi"]}], "mark": {"type": "tick", "orient": "horizontal", "size": 11, "thickness": 1.3, "color": "#000"}, "encoding": {"x": {"field": "g", "type": "nominal"}, "y": {"field": "value", "type": "quantitative"}}},
    {"data": {"values": [{}]}, "mark": {"type": "tick", "orient": "horizontal", "size": 46, "thickness": 1.3, "color": "#000"}, "encoding": {"x": {"datum": "mid", "type": "nominal"}, "y": {"datum": 91.8, "type": "quantitative"}}},
    {"data": {"values": [{}]}, "mark": {"type": "text", "text": "*", "fontSize": 21, "dy": 4, "baseline": "alphabetic"}, "encoding": {"x": {"datum": "mid", "type": "nominal"}, "y": {"datum": 91.8, "type": "quantitative"}}}
  ]},

  {"layer": [
    {"data": {"name": "g1_p"}, "mark": {"type": "point", "filled": true, "size": 20, "opacity": 1, "color": "#000"},
     "encoding": {
       "x": {"field": "g", "type": "nominal", "scale": {"type": "point", "domain": ["WT","mid","α-IL-35"], "range": [568, 639], "padding": 1.15},
             "axis": {"orient": "bottom", "offset": -53, "values": ["WT","α-IL-35"], "labelAngle": -45, "labelAlign": "right", "labelBaseline": "middle", "labelFontStyle": "italic", "title": "CD4⁺", "titleY": -155, "titleBaseline": "alphabetic"}},
       "y": {"field": "v", "type": "quantitative", "scale": {"domain": [0, 80], "range": [847, 713]}, "axis": {"orient": "left", "offset": -568, "values": [0,20,40,60,80], "title": "% IFN-γ⁺"}},
       "shape": {"field": "g", "type": "nominal", "scale": {"domain": ["WT","α-IL-35"], "range": ["circle","square"]}, "legend": null}}},
    {"data": {"name": "g1_s"}, "mark": {"type": "tick", "orient": "horizontal", "size": 22, "thickness": 1.3, "color": "#000"}, "encoding": {"x": {"field": "g", "type": "nominal"}, "y": {"field": "m", "type": "quantitative"}}},
    {"data": {"name": "g1_s"}, "mark": {"type": "rule", "strokeWidth": 1.3, "color": "#000"}, "encoding": {"x": {"field": "g", "type": "nominal"}, "y": {"field": "lo", "type": "quantitative"}, "y2": {"field": "hi"}}},
    {"data": {"name": "g1_s"}, "transform": [{"fold": ["lo","hi"]}], "mark": {"type": "tick", "orient": "horizontal", "size": 11, "thickness": 1.3, "color": "#000"}, "encoding": {"x": {"field": "g", "type": "nominal"}, "y": {"field": "value", "type": "quantitative"}}},
    {"data": {"values": [{}]}, "mark": {"type": "tick", "orient": "horizontal", "size": 47, "thickness": 1.3, "color": "#000"}, "encoding": {"x": {"datum": "mid", "type": "nominal"}, "y": {"datum": 73.4, "type": "quantitative"}}},
    {"data": {"values": [{}]}, "mark": {"type": "text", "text": "*", "fontSize": 21, "dy": 4, "baseline": "alphabetic"}, "encoding": {"x": {"datum": "mid", "type": "nominal"}, "y": {"datum": 73.4, "type": "quantitative"}}}
  ]},

  {"layer": [
    {"data": {"name": "g2_p"}, "mark": {"type": "point", "filled": true, "size": 20, "opacity": 1, "color": "#000"},
     "encoding": {
       "x": {"field": "g", "type": "nominal", "scale": {"type": "point", "domain": ["WT","mid","α-IL-35"], "range": [696, 768], "padding": 0.89},
             "axis": {"orient": "bottom", "offset": -53, "values": ["WT","α-IL-35"], "labelAngle": -45, "labelAlign": "right", "labelBaseline": "middle", "labelFontStyle": "italic", "title": "CD4⁺", "titleY": -155, "titleBaseline": "alphabetic"}},
       "y": {"field": "v", "type": "quantitative", "scale": {"domain": [0, 15], "range": [847, 713]}, "axis": {"orient": "left", "offset": -696, "values": [0,5,10,15], "title": "% CD25⁺Foxp3⁺"}},
       "shape": {"field": "g", "type": "nominal", "scale": {"domain": ["WT","α-IL-35"], "range": ["circle","square"]}, "legend": null}}},
    {"data": {"name": "g2_s"}, "mark": {"type": "tick", "orient": "horizontal", "size": 22, "thickness": 1.3, "color": "#000"}, "encoding": {"x": {"field": "g", "type": "nominal"}, "y": {"field": "m", "type": "quantitative"}}},
    {"data": {"name": "g2_s"}, "mark": {"type": "rule", "strokeWidth": 1.3, "color": "#000"}, "encoding": {"x": {"field": "g", "type": "nominal"}, "y": {"field": "lo", "type": "quantitative"}, "y2": {"field": "hi"}}},
    {"data": {"name": "g2_s"}, "transform": [{"fold": ["lo","hi"]}], "mark": {"type": "tick", "orient": "horizontal", "size": 11, "thickness": 1.3, "color": "#000"}, "encoding": {"x": {"field": "g", "type": "nominal"}, "y": {"field": "value", "type": "quantitative"}}},
    {"data": {"values": [{}]}, "mark": {"type": "tick", "orient": "horizontal", "size": 46, "thickness": 1.3, "color": "#000"}, "encoding": {"x": {"datum": "mid", "type": "nominal"}, "y": {"datum": 14.67, "type": "quantitative"}}},
    {"data": {"values": [{}]}, "mark": {"type": "text", "text": "*", "fontSize": 21, "dy": 4, "baseline": "alphabetic"}, "encoding": {"x": {"datum": "mid", "type": "nominal"}, "y": {"datum": 14.67, "type": "quantitative"}}}
  ]},

  {"data": {"values": []}, "mark": "point",
   "encoding": {
     "x": {"field": "x", "type": "quantitative", "scale": {"domain": [0, 1], "range": [455, 475]}, "axis": {"orient": "top", "offset": -37, "domain": false, "ticks": false, "labels": false, "title": "DLNs", "titleFontWeight": "bold", "titleFontSize": 16, "titleY": 0, "titleBaseline": "alphabetic"}},
     "y": {"field": "y", "type": "quantitative", "scale": {"domain": [0, 1]}, "axis": {"orient": "left", "offset": 0, "domain": false, "ticks": false, "labels": false, "title": "a", "titleAngle": 0, "titleX": 1, "titleY": 21, "titleAlign": "left", "titleBaseline": "alphabetic", "titleFontSize": 22, "titleFontWeight": "bold"}}}},
  {"data": {"values": []}, "mark": "point",
   "encoding": {
     "x": {"field": "x", "type": "quantitative", "scale": {"domain": [0, 1], "range": [616, 636]}, "axis": {"orient": "top", "offset": -37, "domain": false, "ticks": false, "labels": false, "title": "tumor", "titleFontWeight": "bold", "titleFontSize": 16, "titleY": 0, "titleBaseline": "alphabetic"}},
     "y": {"field": "y", "type": "quantitative", "scale": {"domain": [0, 1]}, "axis": {"orient": "left", "offset": 0, "domain": false, "ticks": false, "labels": false, "title": "b", "titleAngle": 0, "titleX": 382, "titleY": 21, "titleAlign": "left", "titleBaseline": "alphabetic", "titleFontSize": 22, "titleFontWeight": "bold"}}}},
  {"data": {"values": []}, "mark": "point",
   "encoding": {
     "x": {"field": "x", "type": "quantitative", "scale": {"domain": [0, 1], "range": [732, 752]}, "axis": {"orient": "top", "offset": -37, "domain": false, "ticks": false, "labels": false, "title": "DLNs", "titleFontWeight": "bold", "titleFontSize": 16, "titleY": 0, "titleBaseline": "alphabetic"}},
     "y": {"field": "y", "type": "quantitative", "scale": {"domain": [0, 1]}, "axis": {"orient": "left", "offset": 0, "domain": false, "ticks": false, "labels": false, "title": "c", "titleAngle": 0, "titleX": 544, "titleY": 21, "titleAlign": "left", "titleBaseline": "alphabetic", "titleFontSize": 22, "titleFontWeight": "bold"}}}},
  {"data": {"values": []}, "mark": "point",
   "encoding": {
     "x": {"field": "x", "type": "quantitative", "scale": {"domain": [0, 1], "range": [46, 498]}, "axis": {"orient": "top", "offset": -344, "domain": true, "domainWidth": 1.5, "ticks": false, "labels": false, "title": "tumor", "titleFontWeight": "bold", "titleFontSize": 16, "titleY": -7, "titleBaseline": "alphabetic"}},
     "y": {"field": "y", "type": "quantitative", "scale": {"domain": [0, 1]}, "axis": {"orient": "left", "offset": 0, "domain": false, "ticks": false, "labels": false, "title": "d", "titleAngle": 0, "titleX": 1, "titleY": 322, "titleAlign": "left", "titleBaseline": "alphabetic", "titleFontSize": 22, "titleFontWeight": "bold"}}}},
  {"data": {"values": []}, "mark": "point",
   "encoding": {
     "x": {"field": "x", "type": "quantitative", "scale": {"domain": [0, 1], "range": [526, 728]}, "axis": {"orient": "top", "offset": -344, "domain": true, "domainWidth": 1.5, "ticks": false, "labels": false, "title": "DLNs", "titleFontWeight": "bold", "titleFontSize": 16, "titleY": -7, "titleBaseline": "alphabetic"}}}},
  {"data": {"values": []}, "mark": "point",
   "encoding": {
     "x": {"field": "x", "type": "quantitative", "scale": {"domain": [0, 1], "range": [293, 314]}, "axis": {"orient": "top", "offset": -657, "domain": false, "ticks": false, "labels": false, "title": "tumor", "titleFontWeight": "bold", "titleFontSize": 16, "titleY": 0, "titleBaseline": "alphabetic"}},
     "y": {"field": "y", "type": "quantitative", "scale": {"domain": [0, 1]}, "axis": {"orient": "left", "offset": 0, "domain": false, "ticks": false, "labels": false, "title": "e", "titleAngle": 0, "titleX": 1, "titleY": 633, "titleAlign": "left", "titleBaseline": "alphabetic", "titleFontSize": 22, "titleFontWeight": "bold"}}}},
  {"data": {"values": []}, "mark": "point",
   "encoding": {
     "x": {"field": "x", "type": "quantitative", "scale": {"domain": [0, 1], "range": [422, 442]}, "axis": {"orient": "top", "offset": -657, "domain": false, "ticks": false, "labels": false, "title": "DLNs", "titleFontWeight": "bold", "titleFontSize": 16, "titleY": 0, "titleBaseline": "alphabetic"}},
     "y": {"field": "y", "type": "quantitative", "scale": {"domain": [0, 1]}, "axis": {"orient": "left", "offset": 0, "domain": false, "ticks": false, "labels": false, "title": "f", "titleAngle": 0, "titleX": 218, "titleY": 633, "titleAlign": "left", "titleBaseline": "alphabetic", "titleFontSize": 22, "titleFontWeight": "bold"}}}},
  {"data": {"values": []}, "mark": "point",
   "encoding": {
     "x": {"field": "x", "type": "quantitative", "scale": {"domain": [0, 1], "range": [547, 778]}, "axis": {"orient": "top", "offset": -669, "domain": true, "domainWidth": 1.5, "ticks": false, "labels": false, "title": "tumor", "titleFontWeight": "bold", "titleFontSize": 16, "titleY": -12, "titleBaseline": "alphabetic"}},
     "y": {"field": "y", "type": "quantitative", "scale": {"domain": [0, 1]}, "axis": {"orient": "left", "offset": 0, "domain": false, "ticks": false, "labels": false, "title": "g", "titleAngle": 0, "titleX": 515, "titleY": 630, "titleAlign": "left", "titleBaseline": "alphabetic", "titleFontSize": 22, "titleFontWeight": "bold"}}}}
],
"resolve": {"scale": {"x": "independent", "y": "independent", "shape": "independent"}}
}
